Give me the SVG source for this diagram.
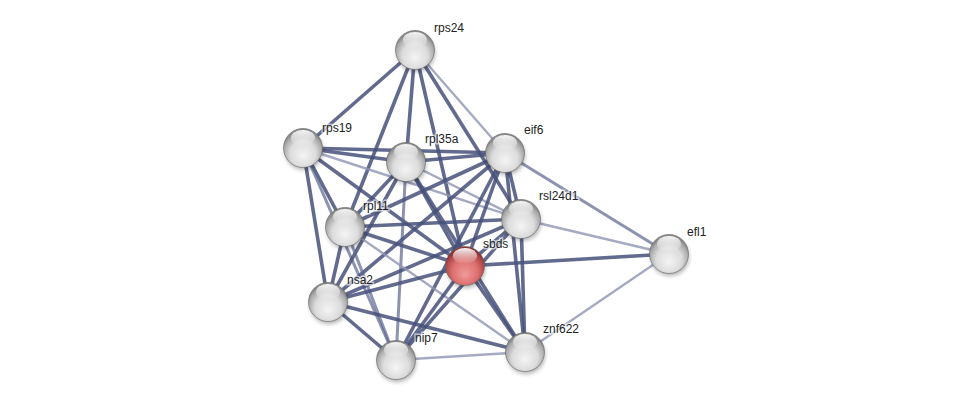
<svg xmlns="http://www.w3.org/2000/svg" width="976" height="405" viewBox="0 0 976 405">
<defs>
<radialGradient id="gw" cx="50%" cy="62%" r="55%" fx="50%" fy="70%">
<stop offset="0" stop-color="#f4f4f4"/>
<stop offset="0.6" stop-color="#dcdcdc"/>
<stop offset="0.9" stop-color="#a9a9a9"/>
<stop offset="1" stop-color="#8a8a8a"/>
</radialGradient>
<radialGradient id="gr" cx="50%" cy="62%" r="55%" fx="50%" fy="72%">
<stop offset="0" stop-color="#f29a9a"/>
<stop offset="0.6" stop-color="#dd6f6f"/>
<stop offset="0.9" stop-color="#b04848"/>
<stop offset="1" stop-color="#8c3434"/>
</radialGradient>
<linearGradient id="hl" x1="0" y1="0" x2="0" y2="1">
<stop offset="0" stop-color="#fff" stop-opacity="0.95"/>
<stop offset="1" stop-color="#fff" stop-opacity="0"/>
</linearGradient>
<filter id="sh" x="-50%" y="-50%" width="200%" height="200%">
<feGaussianBlur stdDeviation="2"/>
</filter>
</defs>
<style>
.d{stroke:#46507a;stroke-width:3.6;stroke-opacity:0.85;fill:none}
.m{stroke:#5b6590;stroke-width:3;stroke-opacity:0.7;fill:none}
.l{stroke:#8e95b3;stroke-width:2.4;stroke-opacity:0.8;fill:none}
.t{font-family:"Liberation Sans",Arial,sans-serif;font-size:12px;fill:#222;stroke:#fff;stroke-width:3;stroke-opacity:0.6;paint-order:stroke}
.sh{fill:#000;opacity:0.3;filter:url(#sh)}
.ring{fill:none;stroke:#666;stroke-width:1;stroke-opacity:0.6}
.hl{fill:url(#hl)}
</style>
<rect width="976" height="405" fill="#fff"/>
<g id="edges">
<line class="d" x1="415" y1="50" x2="303" y2="148"/>
<line class="d" x1="415" y1="50" x2="345" y2="227"/>
<line class="d" x1="415" y1="50" x2="406" y2="162"/>
<line class="d" x1="415" y1="50" x2="465" y2="266"/>
<line class="d" x1="415" y1="50" x2="521" y2="219"/>
<line class="l" x1="415" y1="50" x2="505" y2="153"/>
<line class="d" x1="303" y1="148" x2="406" y2="162"/>
<line class="d" x1="303" y1="148" x2="505" y2="153"/>
<line class="d" x1="303" y1="148" x2="345" y2="227"/>
<line class="d" x1="303" y1="148" x2="328" y2="302"/>
<line class="d" x1="303" y1="148" x2="465" y2="266"/>
<line class="l" x1="303" y1="148" x2="521" y2="219"/>
<line class="m" x1="303" y1="148" x2="396" y2="360"/>
<line class="d" x1="406" y1="162" x2="505" y2="153"/>
<line class="d" x1="406" y1="162" x2="345" y2="227"/>
<line class="d" x1="406" y1="162" x2="328" y2="302"/>
<line class="d" x1="406" y1="162" x2="465" y2="266"/>
<line class="l" x1="406" y1="162" x2="521" y2="219"/>
<line class="m" x1="406" y1="162" x2="396" y2="360"/>
<line class="d" x1="406" y1="162" x2="525" y2="352"/>
<line class="d" x1="505" y1="153" x2="521" y2="219"/>
<line class="d" x1="505" y1="153" x2="525" y2="352"/>
<line class="d" x1="505" y1="153" x2="465" y2="266"/>
<line class="d" x1="505" y1="153" x2="345" y2="227"/>
<line class="d" x1="505" y1="153" x2="328" y2="302"/>
<line class="d" x1="505" y1="153" x2="396" y2="360"/>
<line class="m" x1="505" y1="153" x2="669" y2="254"/>
<line class="d" x1="521" y1="219" x2="345" y2="227"/>
<line class="d" x1="521" y1="219" x2="465" y2="266"/>
<line class="d" x1="521" y1="219" x2="328" y2="302"/>
<line class="d" x1="521" y1="219" x2="396" y2="360"/>
<line class="d" x1="521" y1="219" x2="525" y2="352"/>
<line class="l" x1="521" y1="219" x2="669" y2="254"/>
<line class="d" x1="345" y1="227" x2="465" y2="266"/>
<line class="d" x1="345" y1="227" x2="328" y2="302"/>
<line class="m" x1="345" y1="227" x2="396" y2="360"/>
<line class="l" x1="345" y1="227" x2="525" y2="352"/>
<line class="d" x1="465" y1="266" x2="328" y2="302"/>
<line class="d" x1="465" y1="266" x2="396" y2="360"/>
<line class="d" x1="465" y1="266" x2="525" y2="352"/>
<line class="d" x1="465" y1="266" x2="669" y2="254"/>
<line class="d" x1="328" y1="302" x2="396" y2="360"/>
<line class="d" x1="328" y1="302" x2="525" y2="352"/>
<line class="l" x1="396" y1="360" x2="525" y2="352"/>
<line class="l" x1="525" y1="352" x2="669" y2="254"/>
</g>
<g id="n-rps24"><circle class="sh" cx="416" cy="53" r="19"/><circle cx="415" cy="50" r="19.5" fill="url(#gw)"/><circle class="ring" cx="415" cy="50" r="19.5"/><ellipse class="hl" cx="415" cy="40" rx="12" ry="8"/><text class="t" x="434" y="32">rps24</text></g>
<g id="n-rps19"><circle class="sh" cx="304" cy="151" r="19"/><circle cx="303" cy="148" r="19.5" fill="url(#gw)"/><circle class="ring" cx="303" cy="148" r="19.5"/><ellipse class="hl" cx="303" cy="138" rx="12" ry="8"/><text class="t" x="322" y="132">rps19</text></g>
<g id="n-rpl35a"><circle class="sh" cx="407" cy="165" r="19"/><circle cx="406" cy="162" r="19.5" fill="url(#gw)"/><circle class="ring" cx="406" cy="162" r="19.5"/><ellipse class="hl" cx="406" cy="152" rx="12" ry="8"/><text class="t" x="425" y="143">rpl35a</text></g>
<g id="n-eif6"><circle class="sh" cx="506" cy="156" r="19"/><circle cx="505" cy="153" r="19.5" fill="url(#gw)"/><circle class="ring" cx="505" cy="153" r="19.5"/><ellipse class="hl" cx="505" cy="143" rx="12" ry="8"/><text class="t" x="524" y="134">eif6</text></g>
<g id="n-rsl24d1"><circle class="sh" cx="522" cy="222" r="19"/><circle cx="521" cy="219" r="19.5" fill="url(#gw)"/><circle class="ring" cx="521" cy="219" r="19.5"/><ellipse class="hl" cx="521" cy="209" rx="12" ry="8"/><text class="t" x="539" y="200">rsl24d1</text></g>
<g id="n-rpl11"><circle class="sh" cx="346" cy="230" r="19"/><circle cx="345" cy="227" r="19.5" fill="url(#gw)"/><circle class="ring" cx="345" cy="227" r="19.5"/><ellipse class="hl" cx="345" cy="217" rx="12" ry="8"/><text class="t" x="363" y="210">rpl11</text></g>
<g id="n-sbds"><circle class="sh" cx="466" cy="269" r="19"/><circle cx="465" cy="266" r="19.5" fill="url(#gr)"/><circle class="ring" cx="465" cy="266" r="19.5"/><ellipse class="hl" cx="465" cy="256" rx="12" ry="8"/><text class="t" x="483" y="248">sbds</text></g>
<g id="n-efl1"><circle class="sh" cx="670" cy="257" r="19"/><circle cx="669" cy="254" r="19.5" fill="url(#gw)"/><circle class="ring" cx="669" cy="254" r="19.5"/><ellipse class="hl" cx="669" cy="244" rx="12" ry="8"/><text class="t" x="687" y="236">efl1</text></g>
<g id="n-nsa2"><circle class="sh" cx="329" cy="305" r="19"/><circle cx="328" cy="302" r="19.5" fill="url(#gw)"/><circle class="ring" cx="328" cy="302" r="19.5"/><ellipse class="hl" cx="328" cy="292" rx="12" ry="8"/><text class="t" x="347" y="284">nsa2</text></g>
<g id="n-nip7"><circle class="sh" cx="397" cy="363" r="19"/><circle cx="396" cy="360" r="19.5" fill="url(#gw)"/><circle class="ring" cx="396" cy="360" r="19.5"/><ellipse class="hl" cx="396" cy="350" rx="12" ry="8"/><text class="t" x="415" y="342">nip7</text></g>
<g id="n-znf622"><circle class="sh" cx="526" cy="355" r="19"/><circle cx="525" cy="352" r="19.5" fill="url(#gw)"/><circle class="ring" cx="525" cy="352" r="19.5"/><ellipse class="hl" cx="525" cy="342" rx="12" ry="8"/><text class="t" x="543" y="333">znf622</text></g>
</svg>
